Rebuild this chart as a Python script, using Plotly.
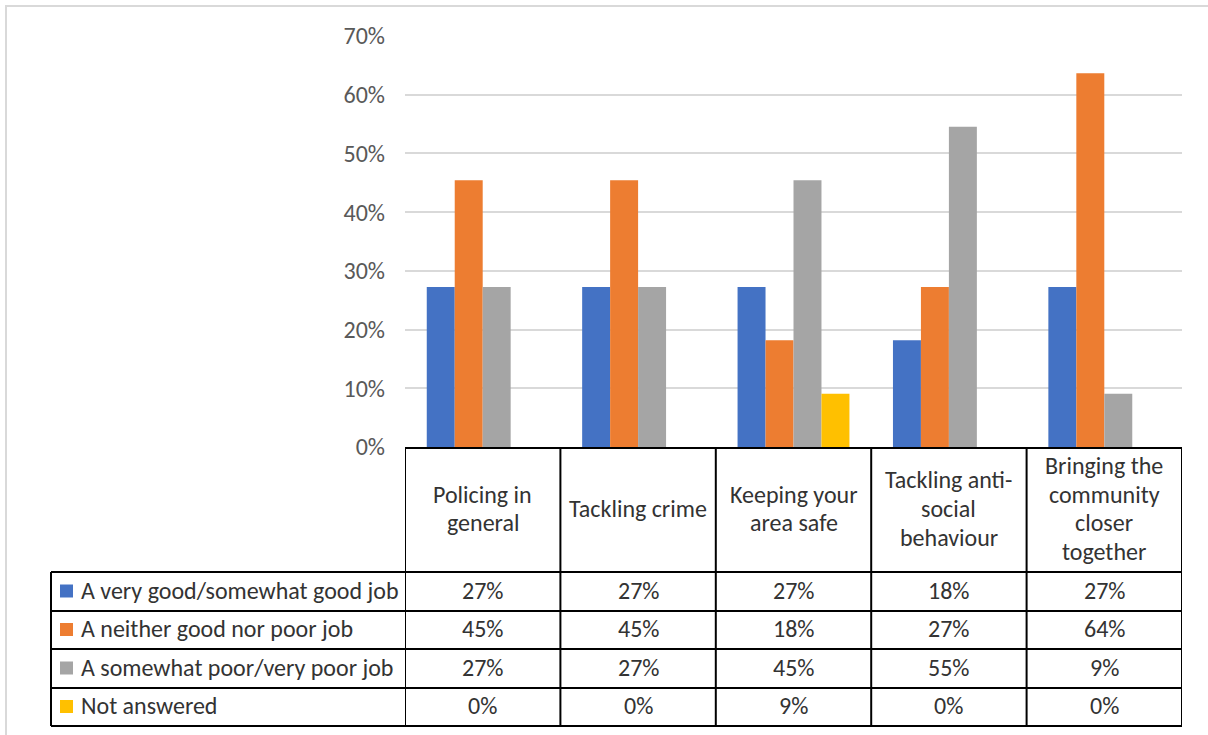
import plotly.graph_objects as go

# ---------------- data ----------------
categories = [
    "Policing in\ngeneral",
    "Tackling crime",
    "Keeping your\narea safe",
    "Tackling anti-\nsocial\nbehaviour",
    "Bringing the\ncommunity\ncloser\ntogether",
]
series_names = [
    "A very good/somewhat good job",
    "A neither good nor poor job",
    "A somewhat poor/very poor job",
    "Not answered",
]
very_good = [27.27, 27.27, 27.27, 18.18, 27.27]
neither = [45.45, 45.45, 18.18, 27.27, 63.64]
poor = [27.27, 27.27, 45.45, 54.55, 9.09]
not_answered = [0.0, 0.0, 9.09, 0.0, 0.0]
series_values = [very_good, neither, poor, not_answered]
colors = ["#4472C4", "#ED7D31", "#A5A5A5", "#FFC000"]
y_ticks = [0, 10, 20, 30, 40, 50, 60, 70]
y_tick_labels = [f"{v}%" for v in y_ticks]

# ---------------- layout helpers ----------------
W, H = 1208, 735
FONT = "Carlito, Lato, 'Noto Sans', sans-serif"
FS = 24
TXT = "#333333"
TICK_TXT = "#595959"


def px(x):
    return x / W


def py(y):
    return 1 - y / H


plot_left, plot_right = 405, 1182
plot_top, plot_bottom = 36, 447
table_left = 51
header_top, header_bottom = 448, 572
row_edges = [572, 611, 649, 688, 726]
line_gap = 28.7
text_shift = -1.5

xcats = list(range(len(categories)))

fig = go.Figure()
for name, vals, col in zip(series_names, series_values, colors):
    fig.add_trace(go.Bar(x=xcats, y=vals, name=name, marker=dict(color=col, line=dict(width=0)),
                         showlegend=False, hoverinfo="y+name"))

shapes = []
annotations = []

# outer chart border (top & left visible)
shapes.append(dict(type="rect", xref="paper", yref="paper", x0=px(6), x1=px(1215), y0=py(6), y1=py(745),
                   line=dict(color="#D9D9D9", width=2), fillcolor="rgba(0,0,0,0)", layer="below"))

lw = dict(color="black", width=2)
n = len(categories)
# header top line
shapes.append(dict(type="line", xref="x", yref="paper", x0=-0.5, x1=n - 0.5, y0=py(header_top), y1=py(header_top), line=lw))
# vertical category boundaries
for i in range(n + 1):
    shapes.append(dict(type="line", xref="x", yref="paper", x0=i - 0.5, x1=i - 0.5,
                       y0=py(header_top), y1=py(row_edges[-1]), line=lw))
# left column vertical
shapes.append(dict(type="line", xref="paper", yref="paper", x0=px(table_left), x1=px(table_left),
                   y0=py(row_edges[0]), y1=py(row_edges[-1]), line=lw))
# horizontal row lines
for ry in row_edges:
    shapes.append(dict(type="line", xref="paper", yref="paper", x0=px(table_left), x1=px(plot_right),
                       y0=py(ry), y1=py(ry), line=lw))

# header text
hc = (header_top + header_bottom) / 2 + text_shift
for i, cat in enumerate(categories):
    lines = cat.split("\n")
    k = len(lines)
    for j, ln in enumerate(lines):
        yy = hc + (j - (k - 1) / 2) * line_gap
        annotations.append(dict(x=i, y=py(yy), xref="x", yref="paper", text=ln, showarrow=False,
                                xanchor="center", yanchor="middle", font=dict(family=FONT, size=FS, color=TXT)))

# rows
for r, (name, vals, col) in enumerate(zip(series_names, series_values, colors)):
    rc = (row_edges[r] + row_edges[r + 1]) / 2
    shapes.append(dict(type="rect", xref="paper", yref="paper", x0=px(60), x1=px(73),
                       y0=py(rc - 7), y1=py(rc + 6), fillcolor=col, line=dict(width=0)))
    annotations.append(dict(x=px(79), y=py(rc + text_shift), xref="paper", yref="paper", text=name, showarrow=False,
                            xanchor="left", yanchor="middle", font=dict(family=FONT, size=FS, color=TXT)))
    for i, v in enumerate(vals):
        annotations.append(dict(x=i, y=py(rc + text_shift), xref="x", yref="paper", text=f"{round(v):d}%",
                                showarrow=False, xanchor="center", yanchor="middle",
                                font=dict(family=FONT, size=FS, color=TXT)))

fig.update_layout(
    template="none",
    width=W, height=H,
    margin=dict(l=0, r=0, t=0, b=0, pad=0, autoexpand=False),
    paper_bgcolor="white", plot_bgcolor="white",
    showlegend=False,
    barmode="group", bargap=0.28, bargroupgap=0,
    shapes=shapes, annotations=annotations,
    xaxis=dict(domain=[px(plot_left), px(plot_right)], range=[-0.5, n - 0.5], showticklabels=False,
               ticks="", showgrid=False, zeroline=False, showline=False, fixedrange=True, automargin=False),
    yaxis=dict(domain=[py(plot_bottom), py(plot_top)], range=[0, 70], tickmode="array",
               tickvals=y_ticks, ticktext=y_tick_labels, ticks="",
               showgrid=True, gridcolor="#D9D9D9", gridwidth=2, zeroline=False, showline=False,
               ticklabelstandoff=19, tickfont=dict(family=FONT, size=FS, color=TICK_TXT),
               fixedrange=True, automargin=False),
    font=dict(family=FONT, size=FS, color=TXT),
)

fig.write_html("out.html", config={"displayModeBar": False},
               post_script="document.body.style.margin='0';document.body.style.overflow='hidden';")
